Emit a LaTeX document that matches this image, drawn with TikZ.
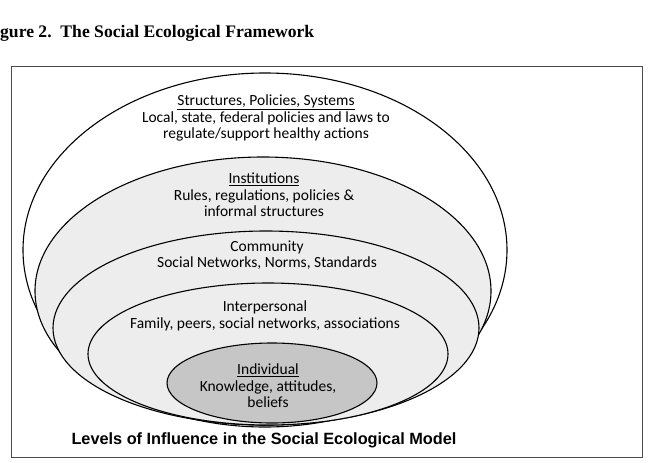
\documentclass[tikz,border=0pt]{standalone}
\usepackage{fontspec}
\setmainfont{Carlito}
\newfontfamily\capfont{Liberation Sans}
\newfontfamily\headfont{Liberation Serif}
\tikzset{
  level/.style={draw=black, line width=1.1pt},
  outer/.style={level, fill=white},
  ring/.style={level, fill=gray!14},
  core/.style={level, fill=gray!45},
  label/.style={align=center, inner sep=0pt, font={\fontsize{15.5}{16.5}\selectfont}}
}
\begin{document}
\begin{tikzpicture}[x=1pt,y=-1pt]
    \useasboundingbox (0,0) rectangle (648,463);
    % heading and frame
    \node[anchor=west, inner sep=0pt, font={\headfont\bfseries\fontsize{17.6}{19}\selectfont}] (title) at (0,33) {gure 2.\ \ The Social Ecological Framework};
    \draw[gray!60!black, line width=1pt] (11,66) rectangle (642,457);
    % levels, outermost first
    \filldraw[outer] (265,250) ellipse [x radius=242, y radius=177];
    \filldraw[ring] (263,291) ellipse [x radius=228, y radius=134];
    \filldraw[ring] (266,328) ellipse [x radius=213, y radius=97];
    \filldraw[ring] (268,354) ellipse [x radius=180, y radius=71];
    \filldraw[core] (272,383) ellipse [x radius=105, y radius=40];
    % texts
    \node[label] (structures) at (266,118) {\underline{Structures, Policies, Systems}\\Local, state, federal policies and laws to\\regulate/support healthy actions};
    \node[label] (institutions) at (264,195) {\underline{Institutions}\\Rules, regulations, policies \&\\informal structures};
    \node[label] (community) at (267,255) {Community\\Social Networks, Norms, Standards};
    \node[label] (interpersonal) at (265,316) {Interpersonal\\Family, peers, social networks, associations};
    \node[label] (individual) at (268,386) {\underline{Individual}\\Knowledge, attitudes,\\beliefs};
    \node[inner sep=0pt, font={\capfont\bfseries\fontsize{16.3}{18}\selectfont}] (caption) at (264,440) {Levels of Influence in the Social Ecological Model};
\end{tikzpicture}
\end{document}
